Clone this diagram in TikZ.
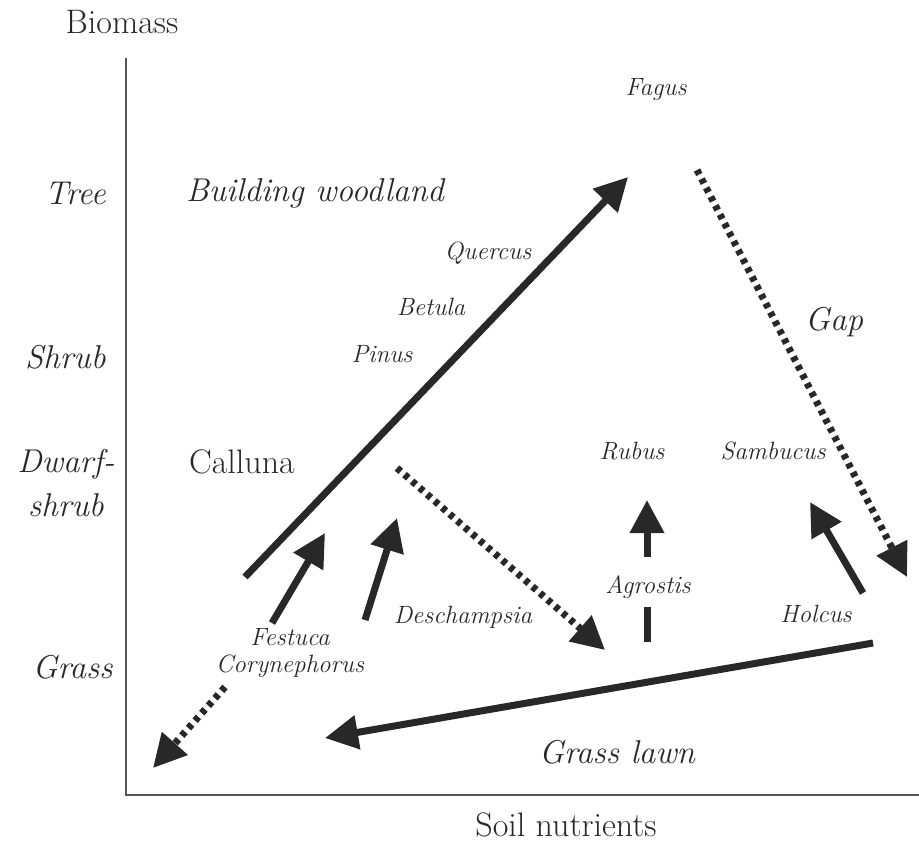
\documentclass[tikz,border=0pt]{standalone}
\usepackage{tikz}
\usetikzlibrary{arrows.meta}
\definecolor{Ink}{RGB}{40,40,40}
\definecolor{Axis}{RGB}{85,85,85}
\tikzset{
  axlab/.style={font=\fontsize{17}{20}\selectfont,text=Ink,anchor=base,inner sep=0pt},
  lvl/.style={font=\fontsize{16.5}{22}\selectfont\itshape,text=Ink,anchor=base,inner sep=0pt,align=center},
  spec/.style={font=\fontsize{12.5}{13.5}\selectfont\itshape,text=Ink,anchor=base,inner sep=0pt,align=center},
  succ/.style={-{Triangle[length=16.5pt,width=16.5pt]},line width=3.5pt,draw=Ink},
  back/.style={succ,dash pattern=on 2.5pt off 2.5pt},
  bar/.style={line width=3.5pt,draw=Ink},
  axline/.style={line width=0.8pt,draw=Axis}
}

\begin{document}
\begin{tikzpicture}[x=0.5pt,y=-0.5pt]
\useasboundingbox (0,0) rectangle (919,843);
% axes
\coordinate (top) at (126,58);
\coordinate (orig) at (126,795);
\coordinate (right) at (919,795);
\draw[axline] (top) -- (orig) -- (right);
\node[axlab] (bio) at (122,33) {Biomass};
\node[axlab] (soil) at (566,836) {Soil nutrients};
% levels of biomass
\node[lvl,anchor=base east] (tree) at (106,204) {Tree};
\node[lvl,anchor=base east] (shrub) at (106,368) {Shrub};
\node[lvl] (dwarf) at (66,516) {Dwarf-\\shrub};
\node[lvl,anchor=base east] (grass) at (113,678) {Grass};
% phases
\node[lvl] (wood) at (315,201) {Building woodland};
\node[lvl] (gap) at (834,330) {Gap};
\node[lvl] (lawn) at (617,763) {Grass lawn};
\node[axlab] (call) at (242,473) {Calluna};
% species
\node[spec] (fag) at (656,95) {Fagus};
\node[spec] (que) at (488,259) {Quercus};
\node[spec] (bet) at (431,315) {Betula};
\node[spec] (pin) at (382,362) {Pinus};
\node[spec] (rub) at (632,459) {Rubus};
\node[spec] (sam) at (773,459) {Sambucus};
\node[spec] (agr) at (648,593) {Agrostis};
\node[spec] (des) at (463,623) {Deschampsia};
\node[spec] (hol) at (816,622) {Holcus};
\node[spec] (fes) at (290,672) {Festuca\\Corynephorus};
% arrow ends
\coordinate (wood0) at (245,577);
\coordinate (wood1) at (628,177);
\coordinate (fes0) at (272,623);
\coordinate (fes1) at (325,533);
\coordinate (des0) at (365,620);
\coordinate (des1) at (397,518);
\coordinate (dot0) at (397,468);
\coordinate (dot1) at (605,650);
\coordinate (gap0) at (697,170);
\coordinate (gap1) at (907,577);
\coordinate (low0) at (225,687);
\coordinate (low1) at (153,768);
\coordinate (rub0) at (647,557);
\coordinate (rub1) at (647,500);
\coordinate (agr0) at (647,642);
\coordinate (agr1) at (647,607);
\coordinate (hol0) at (863,593);
\coordinate (hol1) at (810,502);
\coordinate (lawn0) at (873,643);
\coordinate (lawn1) at (325,738);
\draw[succ] (wood0) -- (wood1);
\draw[succ] (fes0) -- (fes1);
\draw[succ] (des0) -- (des1);
\draw[back] (dot0) -- (dot1);
\draw[back] (gap0) -- (gap1);
\draw[back] (low0) -- (low1);
\draw[succ] (rub0) -- (rub1);
\draw[bar] (agr0) -- (agr1);
\draw[succ] (hol0) -- (hol1);
\draw[succ] (lawn0) -- (lawn1);
\end{tikzpicture}
\end{document}
